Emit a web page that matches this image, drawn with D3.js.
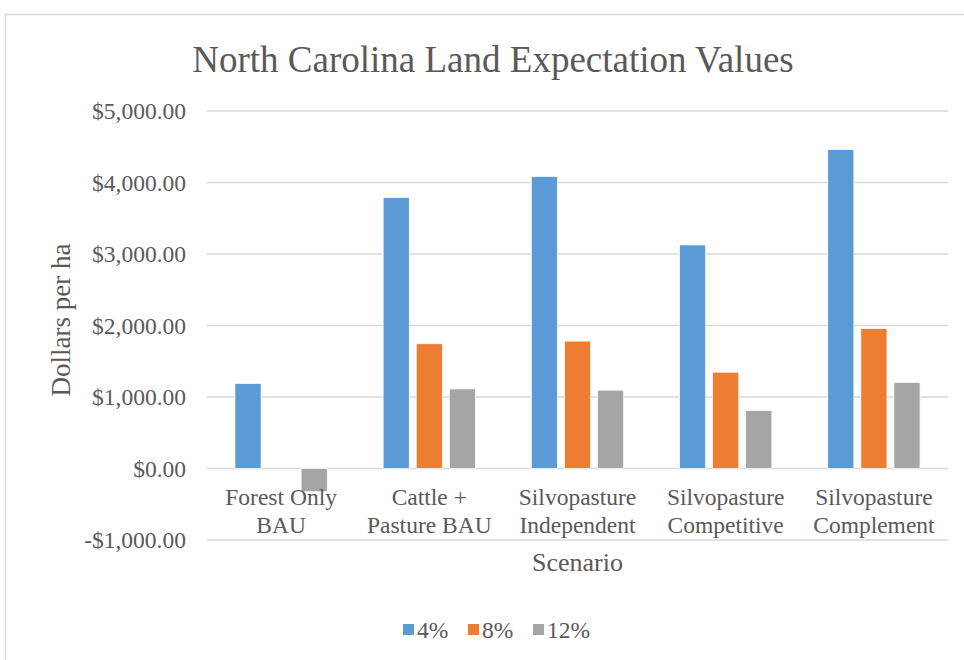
<!DOCTYPE html>
<html lang="en">
<head>
  <meta charset="UTF-8">
  <script src="https://d3js.org/d3.v7.min.js"></script>
  <title>North Carolina Land Expectation Values</title>
  <style>
    body { margin: 0; background: #fff; }
    text { font-family: "Liberation Serif", "Times New Roman", serif; fill: #595959; }
  </style>
</head>
<body>
  <svg id="chart" width="964" height="660"></svg>

  <script>
    // Data
    var categories = [
      ["Forest Only", "BAU"],
      ["Cattle +", "Pasture BAU"],
      ["Silvopasture", "Independent"],
      ["Silvopasture", "Competitive"],
      ["Silvopasture", "Complement"]
    ];
    var seriesNames = ["4%", "8%", "12%"];
    var rate4 = [1190, 3790, 4085, 3127, 4460];
    var rate8 = [0, 1745, 1782, 1347, 1958];
    var rate12 = [-325, 1113, 1096, 811, 1203];
    var yTicks = [-1000, 0, 1000, 2000, 3000, 4000, 5000];
    var colors = ["#5B9BD5", "#ED7D31", "#A5A5A5"];

    var seriesValues = [rate4, rate8, rate12];

    var svg = d3.select("#chart");

    // chart area border
    svg.append("rect")
      .attr("x", 5.5).attr("y", 14.5)
      .attr("width", 980).attr("height", 680)
      .attr("fill", "none")
      .attr("stroke", "#d9d9d9")
      .attr("stroke-width", 1.5);

    var plotLeft = 207, plotRight = 948, plotTop = 111, plotBottom = 540;

    var y = d3.scaleLinear()
      .domain([-1000, 5000])
      .range([plotBottom, plotTop]);

    var x0 = d3.scaleBand()
      .domain(d3.range(categories.length))
      .range([plotLeft, plotRight])
      .paddingInner(0.33)
      .paddingOuter(0.165);

    var x1 = d3.scaleBand()
      .domain(d3.range(seriesNames.length))
      .range([0, x0.bandwidth()])
      .paddingInner(0.21)
      .paddingOuter(0.105);

    // gridlines
    svg.append("g")
      .selectAll("line")
      .data(yTicks)
      .enter()
      .append("line")
        .attr("x1", plotLeft).attr("x2", plotRight)
        .attr("y1", function(d) { return y(d); })
        .attr("y2", function(d) { return y(d); })
        .attr("stroke", "#d9d9d9")
        .attr("stroke-width", 1.5);

    // y axis labels
    var fmt = d3.format(",.2f");
    svg.append("g")
      .selectAll("text")
      .data(yTicks)
      .enter()
      .append("text")
        .attr("x", 186)
        .attr("y", function(d) { return y(d); })
        .attr("dy", "0.35em")
        .attr("text-anchor", "end")
        .style("font-size", "23.5px")
        .text(function(d) { return (d < 0 ? "-$" : "$") + fmt(Math.abs(d)); });

    // bars
    var groups = svg.append("g")
      .selectAll("g")
      .data(categories)
      .enter()
      .append("g")
        .attr("transform", function(d, i) { return "translate(" + x0(i) + ",0)"; });

    groups.selectAll("rect")
      .data(function(d, i) { return seriesValues.map(function(s, j) { return { s: j, v: s[i] }; }); })
      .enter()
      .append("rect")
        .attr("x", function(d) { return x1(d.s); })
        .attr("width", x1.bandwidth())
        .attr("y", function(d) { return y(Math.max(0, d.v)); })
        .attr("height", function(d) { return Math.abs(y(d.v) - y(0)); })
        .attr("fill", function(d) { return colors[d.s]; })
        .attr("stroke", "#fff")
        .attr("stroke-width", 0.75);

    // category labels
    groups.each(function(d) {
      var g = d3.select(this);
      d.forEach(function(line, k) {
        g.append("text")
          .attr("x", x0.bandwidth() / 2)
          .attr("y", 505 + k * 28)
          .attr("text-anchor", "middle")
          .style("font-size", "23.5px")
          .text(line);
      });
    });

    // title
    svg.append("text")
      .attr("x", 493).attr("y", 72)
      .attr("text-anchor", "middle")
      .style("font-size", "37px")
      .text("North Carolina Land Expectation Values");

    // axis titles
    svg.append("text")
      .attr("transform", "translate(70," + 320 + ") rotate(-90)")
      .attr("text-anchor", "middle")
      .style("font-size", "27px")
      .text("Dollars per ha");

    svg.append("text")
      .attr("x", (plotLeft + plotRight) / 2).attr("y", 571)
      .attr("text-anchor", "middle")
      .style("font-size", "26px")
      .text("Scenario");

    // legend
    var legend = svg.append("g").attr("transform", "translate(403,630)");
    var offsets = [0, 65, 130];
    seriesNames.forEach(function(name, i) {
      legend.append("rect")
        .attr("x", offsets[i]).attr("y", -6)
        .attr("width", 11).attr("height", 11)
        .attr("fill", colors[i]);
      legend.append("text")
        .attr("x", offsets[i] + 14).attr("y", 0)
        .attr("dy", "0.35em")
        .style("font-size", "23.5px")
        .text(name);
    });
  </script>
</body>
</html>
